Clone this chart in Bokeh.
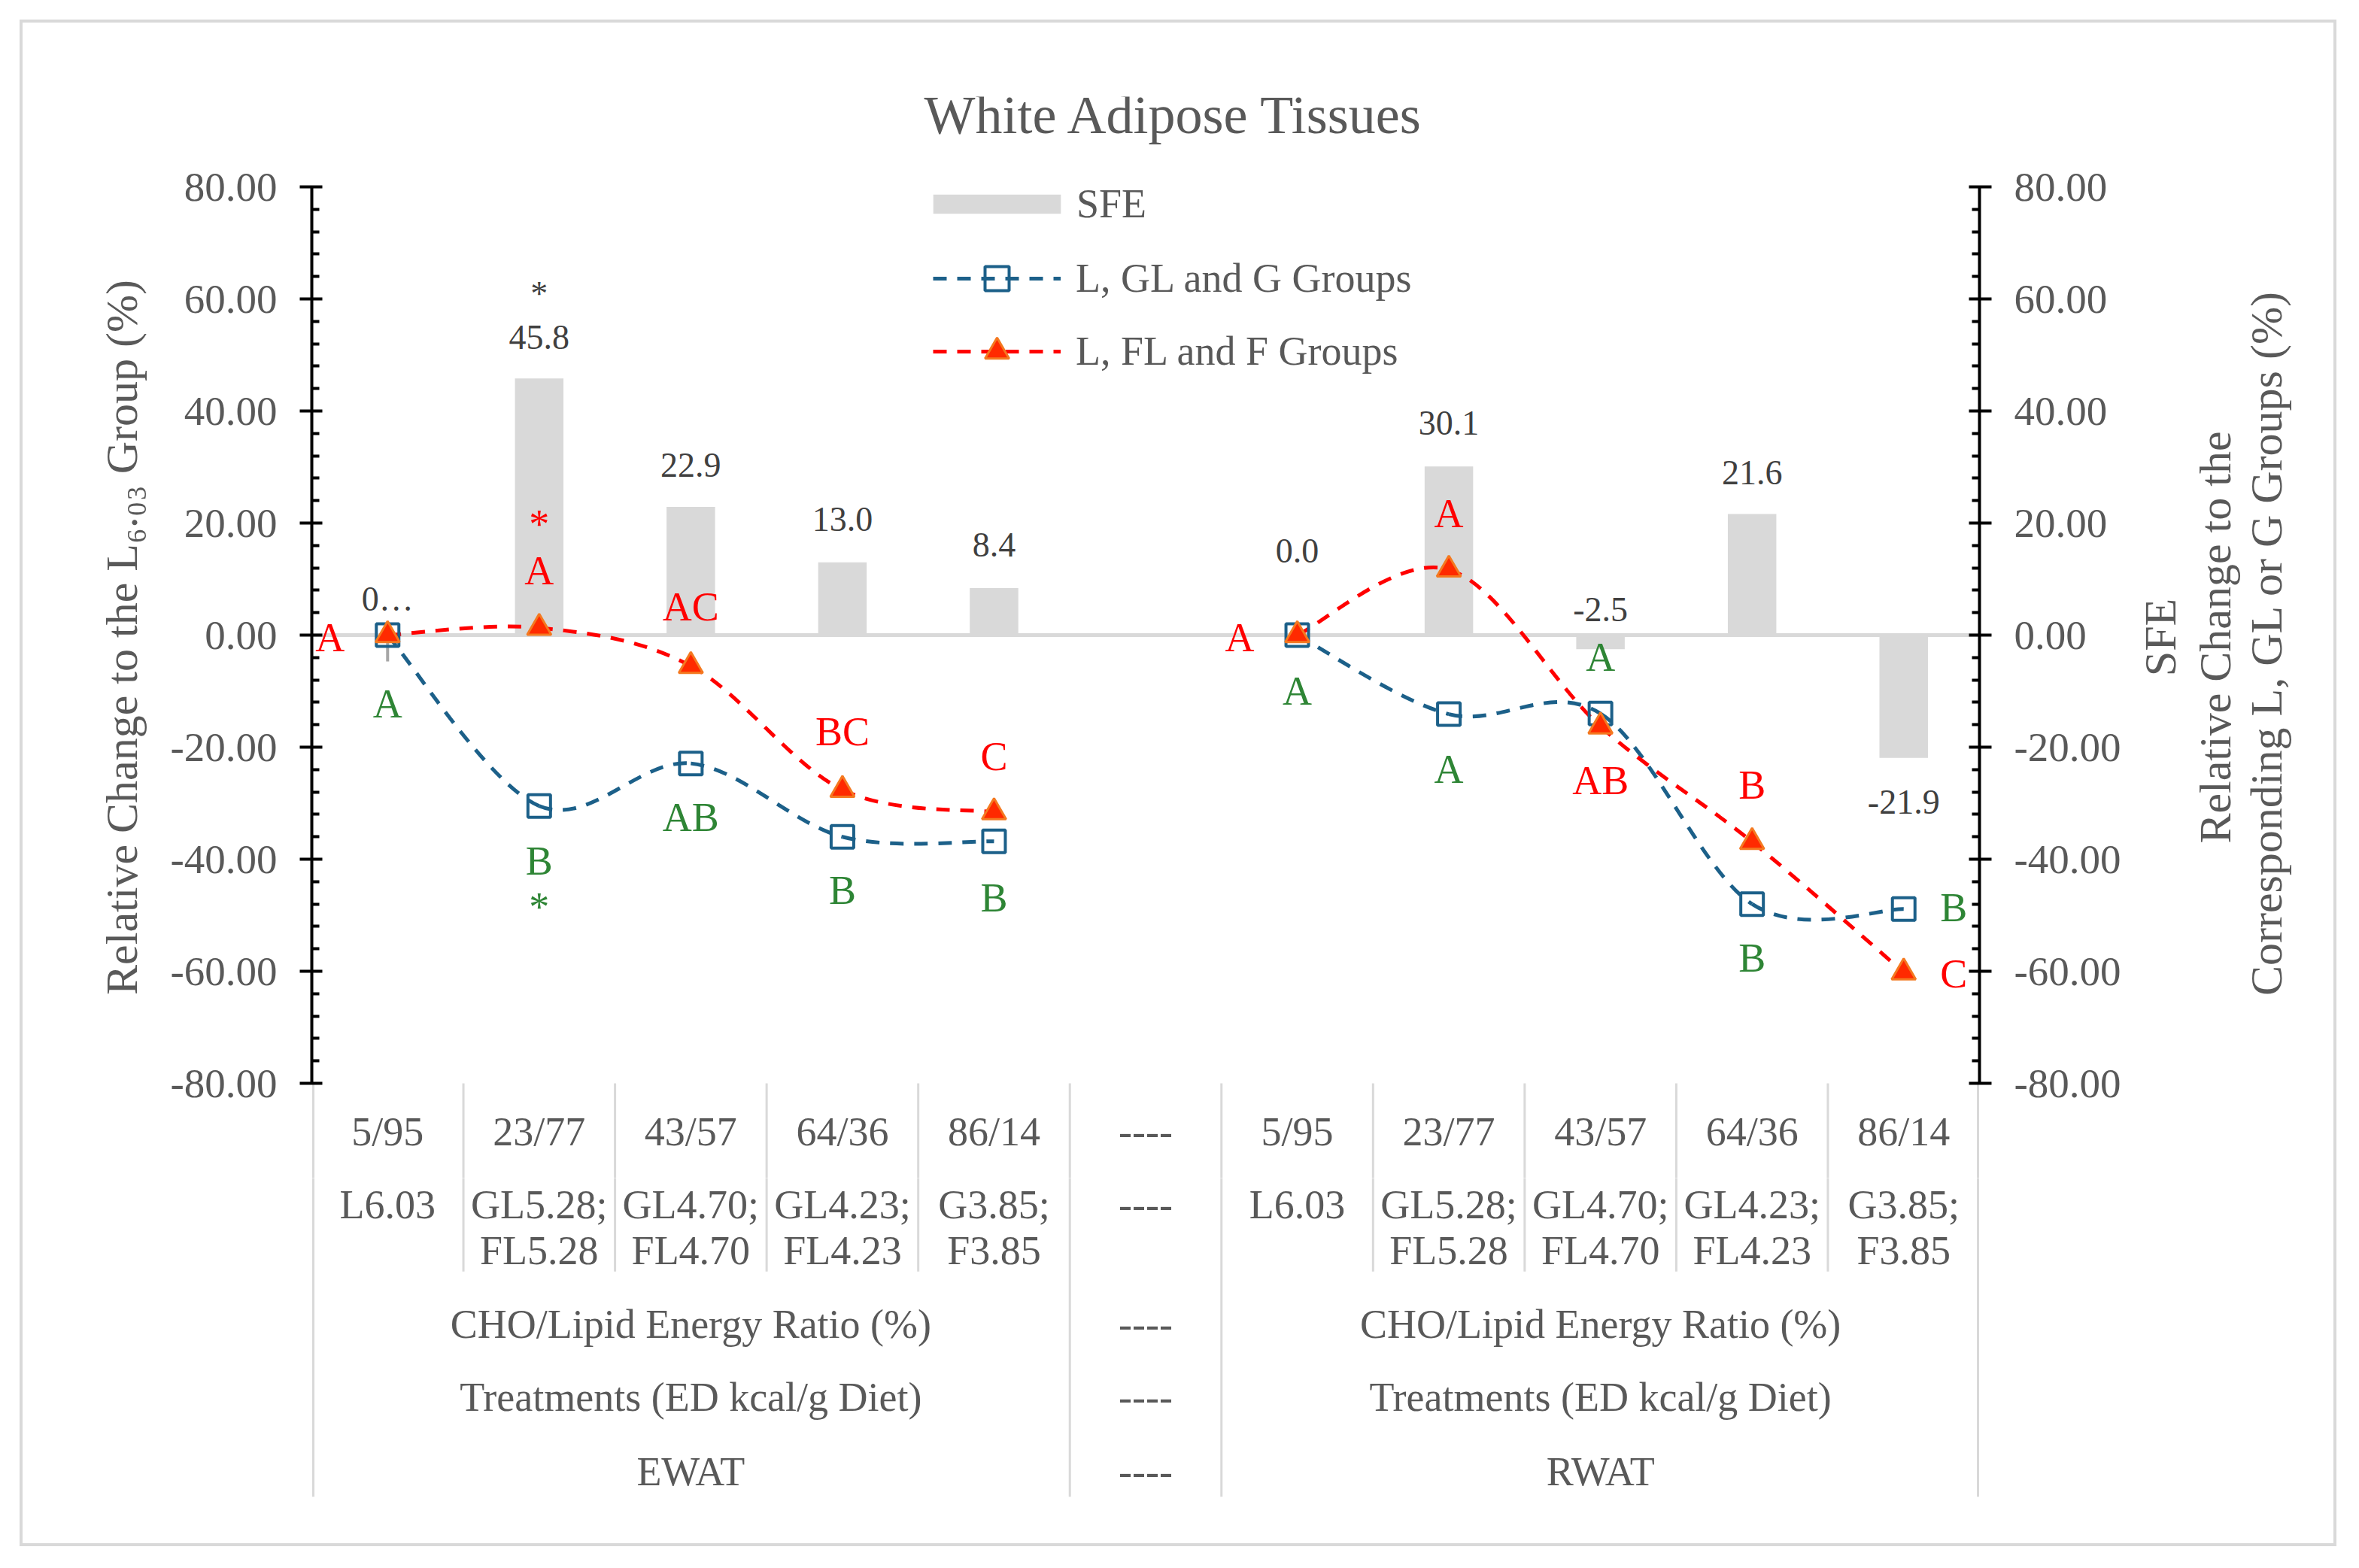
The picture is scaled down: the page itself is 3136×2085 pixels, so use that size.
from math import pi

from bokeh.plotting import figure
from bokeh.layouts import column, row
from bokeh.models import (Range1d, LinearAxis, FixedTicker, NumeralTickFormatter,
                          Legend, LegendItem, Span, Label)
from bokeh.core.properties import value
from bokeh.embed import file_html
from bokeh.resources import INLINE

# ---- values ----
ratios = ["5/95", "23/77", "43/57", "64/36", "86/14"]
treatments = ["L6.03", "GL5.28;\nFL5.28", "GL4.70;\nFL4.70", "GL4.23;\nFL4.23", "G3.85;\nF3.85"]
row_titles = ["CHO/Lipid Energy Ratio (%)", "Treatments (ED kcal/g Diet)"]
tissues = ["EWAT", "RWAT"]
separator = "----"

sfe_ewat = [0.0, 45.8, 22.9, 13.0, 8.4]
sfe_rwat = [0.0, 30.1, -2.5, 21.6, -21.9]
sfe_text_ewat = ["0\u2026", "45.8", "22.9", "13.0", "8.4"]   # first label is cut off in the original
sfe_text_rwat = ["0.0", "30.1", "-2.5", "21.6", "-21.9"]

glg_ewat = [0.0, -30.5, -22.9, -36.0, -36.8]   # L, GL and G groups
glg_rwat = [0.0, -14.1, -14.0, -48.0, -48.9]
flf_ewat = [0.0, 1.3, -5.5, -27.6, -31.6]      # L, FL and F groups
flf_rwat = [0.0, 11.7, -16.3, -36.9, -60.2]

# significance letters: (text, category position, y position)
green_marks = [("A", 0, -12.3), ("B", 1, -40.3), ("*", 1, -48.5), ("AB", 2, -32.6),
               ("B", 3, -45.5), ("B", 4, -46.9),
               ("A", 6, -10.0), ("A", 7, -23.9), ("A", 8, -4.0), ("B", 9, -57.7),
               ("B", 10.33, -48.6)]
red_marks = [("A", -0.38, -0.5), ("*", 1, 19.8), ("A", 1, 11.5), ("AC", 2, 5.1),
             ("BC", 3, -17.3), ("C", 4, -21.7),
             ("A", 5.62, -0.5), ("A", 7, 21.7), ("AB", 8, -26.0), ("B", 9, -26.8),
             ("C", 10.33, -60.4)]
# SFE label y positions (placed by hand in the original)
sfe_label_y_ewat = [6.4, 53.2, 30.3, 20.7, 16.1]
sfe_label_y_rwat = [15.0, 37.9, 4.6, 29.0, -29.8]

left_title = "Relative Change to the L\u2086.\u2080\u2083 Group (%)"
right_title = ["SFE", "Relative Change to the", "Corresponding  L, GL or G Groups (%)"]

# ---- layout ----
FONT = "Liberation Serif"
GRAY_TXT = "#595959"
BAR = "#d9d9d9"
BLUE = "#1c6089"
RED = "#ff0000"
GREEN = "#2e8535"

ew_x = [0, 1, 2, 3, 4]
rw_x = [6, 7, 8, 9, 10]
sep_x = 5

W_TOTAL, H_TOTAL = 3120, 2069
B_LEFT, FRAME_W = 414, 2217
B_RIGHT_MAIN = 200                       # room for the right tick labels
W_MAIN = B_LEFT + FRAME_W + B_RIGHT_MAIN
PX = 1192 / 160.0            # pixels per y unit
Y_TOP = 80 + 120 / PX        # frame top 120 px above the 80 tick
Y_MID = -0.4                 # axis titles are centred here
Y_CUT = 2 * Y_MID - Y_TOP    # upper figure ends here (symmetric about Y_MID)
Y_BOT = -80 - 568 / PX       # lower figure ends 568 px below the -80 tick
H_TOP = 128 + round((Y_TOP - Y_CUT) * PX)

row_y = [-88.6, -101.7, -109.8, -123.0, -136.1, -149.3]
short_line_bottom = -113.6
full_line_bottom = -153.8
right_title_x = [40, 113, 181]           # px into the strip right of the tick labels


def smooth(xs, ys):
    # Excel-like smoothed line: cubic bezier segments through the points
    n = len(xs)
    seg = {k: [] for k in ("x0", "y0", "x1", "y1", "cx0", "cy0", "cx1", "cy1")}
    for i in range(n - 1):
        a = max(i - 1, 0)
        d = min(i + 2, n - 1)
        seg["x0"].append(xs[i]); seg["y0"].append(ys[i])
        seg["x1"].append(xs[i + 1]); seg["y1"].append(ys[i + 1])
        seg["cx0"].append(xs[i] + (xs[i + 1] - xs[a]) / 6.0)
        seg["cy0"].append(ys[i] + (ys[i + 1] - ys[a]) / 6.0)
        seg["cx1"].append(xs[i + 1] - (xs[d] - xs[i]) / 6.0)
        seg["cy1"].append(ys[i + 1] - (ys[d] - ys[i]) / 6.0)
    return seg


xr = Range1d(-0.5, 10.5)


def make_fig(width, height, x_range, y_range, left, right, top, bottom):
    f = figure(width=width, height=height, x_range=x_range, y_range=y_range,
               output_backend="svg", toolbar_location=None,
               x_axis_location=None, y_axis_location=None,
               min_border_left=left, min_border_right=right,
               min_border_top=top, min_border_bottom=bottom)
    f.outline_line_color = None
    f.grid.grid_line_color = None
    f.border_fill_alpha = 0
    return f


yr_top = Range1d(Y_CUT, Y_TOP)
p1 = make_fig(W_MAIN, H_TOP, xr, yr_top, B_LEFT, B_RIGHT_MAIN, 128, 0)
p3 = make_fig(W_TOTAL - W_MAIN, H_TOP, Range1d(0, W_TOTAL - W_MAIN), yr_top, 0, 0, 128, 0)
p3.background_fill_alpha = 0
p2 = make_fig(W_TOTAL, H_TOTAL - H_TOP, xr, Range1d(Y_BOT, Y_CUT),
              B_LEFT, W_TOTAL - B_LEFT - FRAME_W, 0, 61)

# axes
ticks = list(range(-80, 81, 20))
minor = [t for t in range(-80, 81, 4) if t % 20 != 0]


def style_axis(ax):
    ax.ticker = FixedTicker(ticks=ticks, minor_ticks=minor)
    ax.formatter = NumeralTickFormatter(format="0.00")
    ax.bounds = (-80, 80)
    ax.axis_line_width = 4
    ax.axis_line_color = "black"
    ax.major_tick_line_width = 4
    ax.major_tick_line_color = "black"
    ax.minor_tick_line_width = 4
    ax.minor_tick_line_color = "black"
    ax.major_tick_in = 14
    ax.major_tick_out = 16
    ax.minor_tick_in = 10
    ax.minor_tick_out = 0
    ax.major_label_text_font = FONT
    ax.major_label_text_font_size = "55px"
    ax.major_label_text_color = GRAY_TXT
    ax.major_label_standoff = 30
    ax.axis_label_text_font = FONT
    ax.axis_label_text_font_size = "60px"
    ax.axis_label_text_font_style = "normal"
    ax.axis_label_text_color = GRAY_TXT


left = LinearAxis(axis_label=left_title)
style_axis(left)
left.axis_label_standoff = 28
p1.add_layout(left, "left")

right = LinearAxis()
style_axis(right)
p1.add_layout(right, "right")

# right axis title, three centred lines reading upwards
p3.text(x=right_title_x, y=[Y_MID] * 3, text=right_title, angle=pi / 2,
        text_font=value(FONT), text_font_size="60px", text_color=GRAY_TXT,
        text_align="center", text_baseline="middle")

p1.add_layout(Span(location=0, dimension="width", line_color=BAR, line_width=5, level="underlay"))

# SFE bars
bars = p1.vbar(x=ew_x + rw_x, top=sfe_ewat + sfe_rwat, width=0.32, fill_color=BAR, line_color=None)
p1.text(x=ew_x + rw_x, y=sfe_label_y_ewat + sfe_label_y_rwat, text=sfe_text_ewat + sfe_text_rwat,
        text_font=value(FONT), text_font_size="46px", text_color="#404040",
        text_align="center", text_baseline="middle")
p1.text(x=[1], y=[61.0], text=["*"], text_font=value(FONT), text_font_size="46px",
        text_color="#404040", text_align="center", text_baseline="middle")

# small error bar on the first EWAT point
p1.segment(x0=[0], y0=[0], x1=[0], y1=[-4.7], line_color="#a6a6a6", line_width=4)

# smoothed series
blue_r = []
red_r = []
for xs, ys in ((ew_x, glg_ewat), (rw_x, glg_rwat)):
    blue_r.append(p1.bezier(**smooth(xs, ys), line_color=BLUE, line_width=5, line_dash="18 14"))
for xs, ys in ((ew_x, flf_ewat), (rw_x, flf_rwat)):
    red_r.append(p1.bezier(**smooth(xs, ys), line_color=RED, line_width=5, line_dash="18 14"))
sq = p1.scatter(x=ew_x + rw_x, y=glg_ewat + glg_rwat, marker="square", size=30,
                fill_alpha=0, line_color=BLUE, line_width=4)
tri = p1.scatter(x=ew_x + rw_x, y=flf_ewat + flf_rwat, marker="triangle", size=32,
                 fill_color="#ff2a00", line_color="#f47920", line_width=3)

# letters
for marks, col in ((green_marks, GREEN), (red_marks, RED)):
    p1.text(x=[m[1] for m in marks], y=[m[2] for m in marks], text=[m[0] for m in marks],
            text_font=value(FONT), text_font_size="54px", text_color=col,
            text_align="center", text_baseline="middle")

# title
p1.add_layout(Label(x=5.19, y=92.8, text="White Adipose Tissues", text_align="center",
                    text_baseline="middle", text_font=FONT, text_font_size="72px",
                    text_color=GRAY_TXT))

# legends
leg1 = Legend(items=[LegendItem(label="SFE", renderers=[bars])], location=(805, 1264))
leg2 = Legend(items=[LegendItem(label="L, GL and G Groups", renderers=[blue_r[0], sq]),
                     LegendItem(label="L, FL and F Groups", renderers=[red_r[0], tri])],
              location=(826, 1059))
for lg, gw, gh, so in ((leg1, 212, 32, 0), (leg2, 170, 80, 20)):
    lg.glyph_width = gw
    lg.glyph_height = gh
    lg.label_height = 60
    lg.label_standoff = so
    lg.spacing = 17
    lg.padding = 0
    lg.margin = 0
    lg.border_line_color = None
    lg.background_fill_alpha = 0
    lg.label_text_font = FONT
    lg.label_text_font_size = "54px"
    lg.label_text_color = GRAY_TXT
    p1.add_layout(lg)

# table under the plot
cells_x = ew_x + rw_x
first_lines = [t.split("\n")[0] for t in treatments]
second_lines = [t.split("\n")[1] if "\n" in t else "" for t in treatments]
table_txt = dict(text_font=value(FONT), text_font_size="54px", text_color=GRAY_TXT,
                 text_align="center", text_baseline="middle")
p1.text(x=cells_x, y=[row_y[0]] * 10, text=ratios * 2, **table_txt)
p1.text(x=[sep_x], y=[row_y[0]], text=[separator], **table_txt)
p2.text(x=cells_x, y=[row_y[1]] * 10, text=first_lines * 2, **table_txt)
p2.text(x=cells_x, y=[row_y[2]] * 10, text=second_lines * 2, **table_txt)
mid_e = sum(ew_x) / 5.0
mid_r = sum(rw_x) / 5.0
for yy, t in zip(row_y[3:5], row_titles):
    p2.text(x=[mid_e, mid_r], y=[yy, yy], text=[t, t], **table_txt)
p2.text(x=[mid_e, mid_r], y=[row_y[5]] * 2, text=tissues, **table_txt)
sep_rows = [row_y[1], row_y[3], row_y[4], row_y[5]]
p2.text(x=[sep_x] * 4, y=sep_rows, text=[separator] * 4, **table_txt)

bounds_short = [0.5, 1.5, 2.5, 3.5, 6.5, 7.5, 8.5, 9.5]
bounds_full = [-0.49, 4.5, 5.5, 10.49]
for f in (p1, p2):
    f.segment(x0=bounds_short, y0=[-80] * 8, x1=bounds_short, y1=[short_line_bottom] * 8,
              line_color=BAR, line_width=3)
    f.segment(x0=bounds_full, y0=[-80] * 4, x1=bounds_full, y1=[full_line_bottom] * 4,
              line_color=BAR, line_width=3)

# light frame round the whole chart (the outer box is a little larger than the plots)
p = column(row(p1, p3, spacing=0), p2, spacing=0, width=3132, height=2082,
           styles={"outline": "4px solid #d9d9d9", "outline-offset": "-30px"})

open("out.html", "w").write(file_html(p, INLINE))
